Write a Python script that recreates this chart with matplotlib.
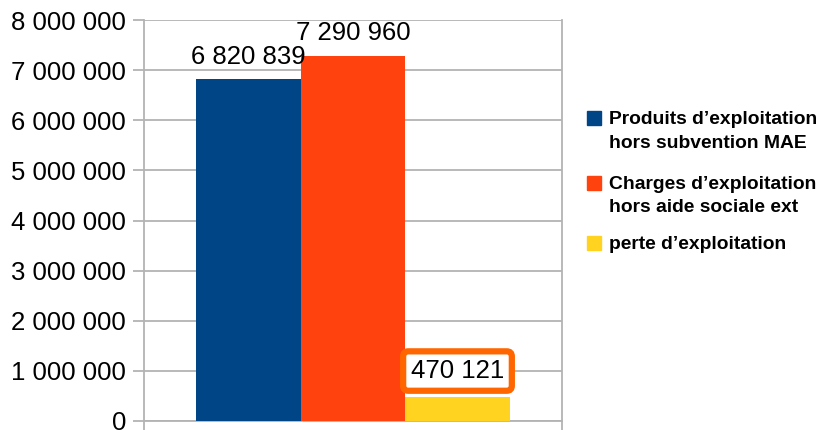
import matplotlib
matplotlib.use("Agg")
import matplotlib.pyplot as plt
from matplotlib.ticker import FuncFormatter
from matplotlib.patches import Rectangle

plt.rcParams['font.family'] = ['Liberation Sans', 'DejaVu Sans']

# series (one category)
series_labels = ["Produits d\u2019exploitation\nhors subvention MAE",
                 "Charges d\u2019exploitation\nhors aide sociale ext",
                 "perte d\u2019exploitation"]
series_values = [6820839, 7290960, 470121]
series_colors = ["#004586", "#ff420e", "#ffd320"]

grid_col = "#b3b3b3"


def fmt(v, pos=None):
    return f"{v:,.0f}".replace(",", " ")


fig = plt.figure(figsize=(8.22, 4.30), dpi=100)
ax = fig.add_axes([144 / 822, 1 - 421 / 430, (562 - 144) / 822, (421 - 20) / 430])

w = 0.25
offsets = [-w, 0, w]
bars = []
for off, val, col in zip(offsets, series_values, series_colors):
    b = ax.bar(off, val, width=w, color=col, zorder=3)
    bars.append(b[0])

ax.set_xlim(-0.5, 0.5)
ax.set_ylim(0, 8000000)
ax.set_yticks(range(0, 8000001, 1000000))
ax.yaxis.set_major_formatter(FuncFormatter(fmt))
ax.grid(axis='y', color=grid_col, linewidth=1.3, zorder=0)
ax.set_xticks([-0.5, 0.5])
ax.set_xticklabels([])
ax.tick_params(axis='y', length=8, width=1.3, color=grid_col, pad=5, labelsize=18.5)
ax.tick_params(axis='x', length=7, width=1.3, color=grid_col)
for s in ['left', 'right', 'bottom']:
    ax.spines[s].set_color(grid_col)
    ax.spines[s].set_linewidth(1.3)
ax.spines['top'].set_visible(False)

# data labels
for i, (b, val) in enumerate(zip(bars, series_values)):
    x = b.get_x() + b.get_width() / 2
    if i == 2:
        ax.annotate(fmt(val), (x, val), xytext=(0, 19), textcoords='offset points',
                    ha='center', va='center', fontsize=18.5, zorder=5,
                    bbox=dict(boxstyle='round,pad=0.3,rounding_size=0.2', fc='white',
                              ec='#ff6600', lw=4.5))
    else:
        ax.annotate(fmt(val), (x, val), xytext=(0, 11), textcoords='offset points',
                    ha='center', va='baseline', fontsize=18.5, zorder=5)

# legend drawn at right
first_line_y = [118, 183, 243]
for lab, col, yy in zip(series_labels, series_colors, first_line_y):
    fig.patches.append(Rectangle((587 / 822, 1 - (yy + 7) / 430), 14 / 822, 14 / 430,
                                 transform=fig.transFigure, color=col))
    fig.text(609 / 822, 1 - (yy - 7) / 430, lab, fontsize=13.9, fontweight='bold',
             va='top', ha='left', linespacing=1.5)

fig.savefig("out.png", dpi=100)
